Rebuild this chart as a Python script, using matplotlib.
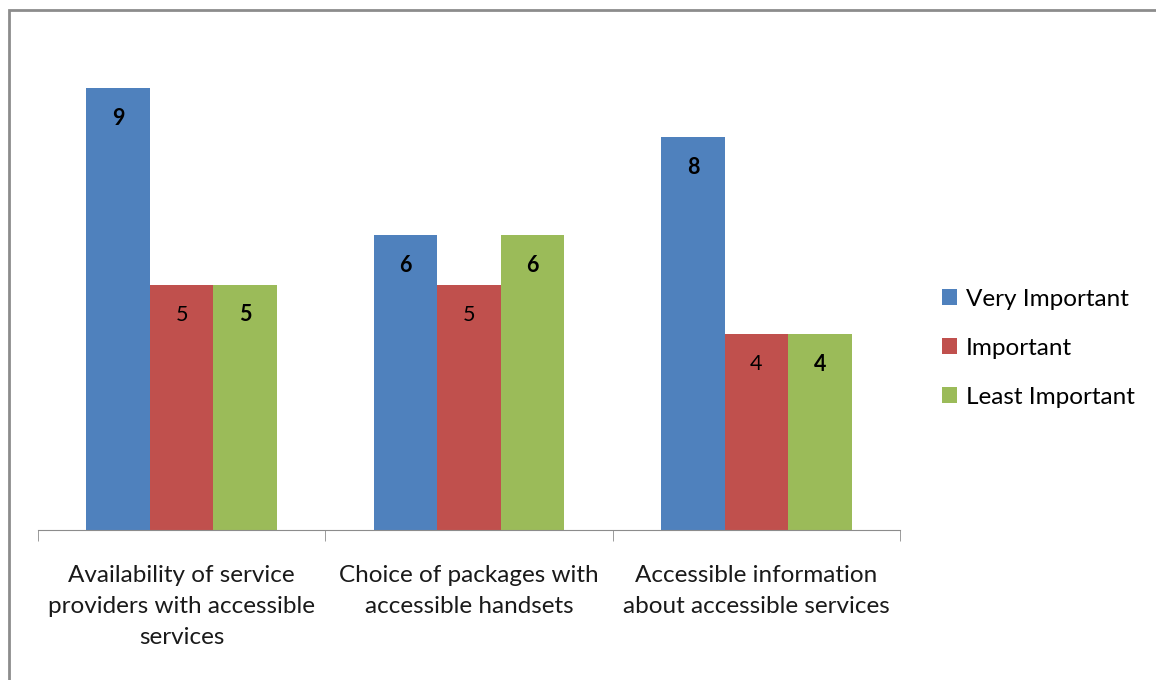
import numpy as np
import matplotlib.pyplot as plt
from matplotlib.patches import Rectangle

# Chart data
categories = ['Availability of service\nproviders with accessible\nservices',
              'Choice of packages with\naccessible handsets',
              'Accessible information\nabout accessible services']
series_names = ['Very Important', 'Important', 'Least Important']
very_important = [9, 6, 8]
important = [5, 5, 4]
least_important = [5, 6, 4]

colors = ['#4F81BD', '#C0504D', '#9BBB59']
label_weights = ['bold', 'normal', 'bold']

plt.rcParams['font.family'] = ['Lato', 'DejaVu Sans']


def main():
    fig = plt.figure(figsize=(11.56, 6.8), dpi=100)
    ax = fig.add_axes([0.0329, 0.2206, 0.7457, 0.722])

    # chart border
    fig.patches.append(Rectangle((9 / 1156, -0.1), 1.2, 1 - 10 / 680 + 0.1,
                                 transform=fig.transFigure, fill=False,
                                 edgecolor='#8c8c8c', linewidth=2))

    x = np.arange(len(categories))
    width = 0.221
    all_values = [very_important, important, least_important]
    for i, (vals, name) in enumerate(zip(all_values, series_names)):
        pos = x + (i - 1) * width
        bars = ax.bar(pos, vals, width, color=colors[i], label=name,
                      edgecolor='none')
        for b, v in zip(bars, vals):
            ax.text(b.get_x() + b.get_width() / 2, v - 0.62, str(v),
                    ha='center', va='center', fontsize=15.5,
                    fontweight=label_weights[i], color='black')

    ax.set_xlim(-0.5, len(categories) - 0.5)
    ax.set_ylim(0, 10)
    ax.set_yticks([])
    for s in ['top', 'right', 'left']:
        ax.spines[s].set_visible(False)
    ax.spines['bottom'].set_color('#8c8c8c')

    ax.set_xticks(x)
    ax.set_xticklabels(categories, fontsize=17.5, color='#1a1a1a',
                       linespacing=1.6)
    ax.tick_params(axis='x', which='major', length=0, pad=25)
    ax.set_xticks(np.arange(len(categories) + 1) - 0.5, minor=True)
    ax.tick_params(axis='x', which='minor', length=8, color='#8c8c8c')

    ax.legend(loc='center left', bbox_to_anchor=(0.796, 0.488),
              bbox_transform=fig.transFigure, frameon=False, fontsize=17.5,
              handlelength=0.62, handleheight=0.62, handletextpad=0.35,
              labelspacing=1.15)

    fig.savefig('out.png', dpi=100)


if __name__ == '__main__':
    main()
